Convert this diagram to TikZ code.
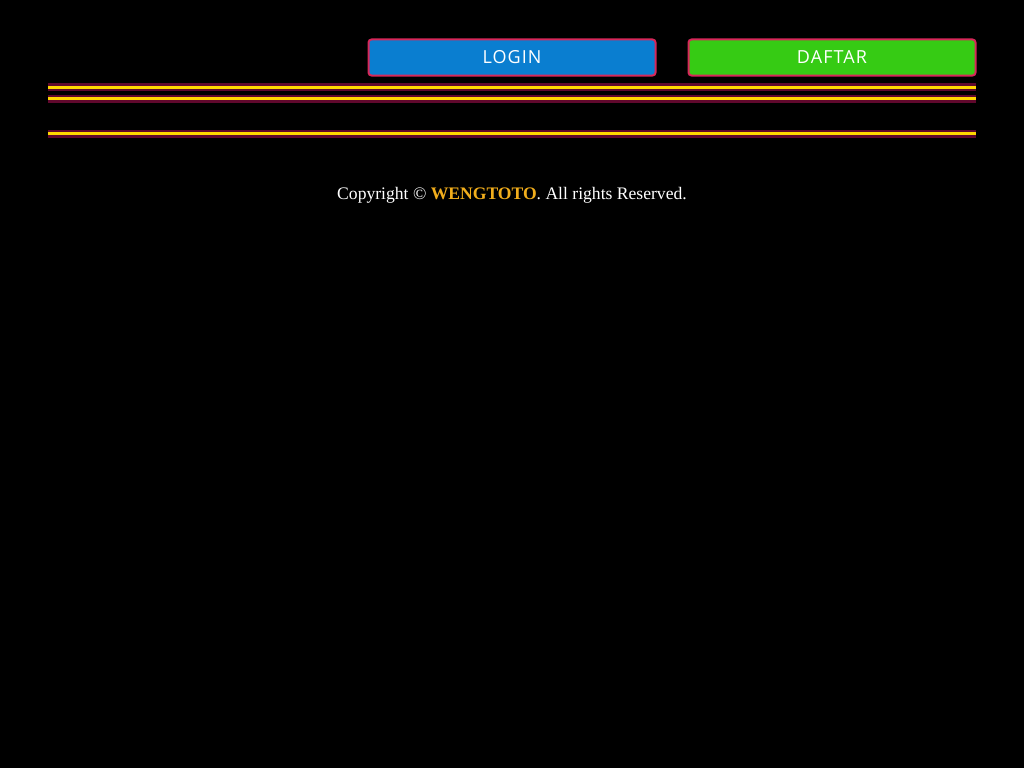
\documentclass[tikz,border=0pt]{standalone}
\usepackage{fontspec}
\setmainfont{Liberation Serif}
\newfontfamily\btnfont[LetterSpace=6]{Open Sans}
\definecolor{loginblue}{HTML}{0A7ED0}
\definecolor{daftargreen}{HTML}{36CB14}
\definecolor{btnborder}{HTML}{D7285A}
\definecolor{neonyellow}{HTML}{FFD700}
\definecolor{neonglow}{HTML}{C0105A}
\definecolor{brandgold}{HTML}{F2AE1C}
\tikzset{
  btn/.style={draw=btnborder,line width=2pt,rounded corners=3pt,minimum width=287pt,
    minimum height=36pt,text=white,font=\btnfont\fontsize{18}{20}\selectfont},
  neon/.style={line width=3pt,neonyellow,preaction={draw=neonglow,line width=8pt,opacity=0.5}}
}
\begin{document}
\begin{tikzpicture}[x=1pt,y=-1pt]
\useasboundingbox[fill=black] (0,0) rectangle (1024,768);

\node[btn,fill=loginblue] (login) at (512,57.5) {LOGIN};
\node[btn,fill=daftargreen] (daftar) at (832,57.5) {DAFTAR};

\foreach \y in {87,98.5,133.5}
    \draw[neon] (48,\y) -- (976,\y);

\node[text=white,font=\fontsize{17.6}{20}\selectfont] (copy) at (512,195.5)
    {Copyright \textcopyright\ \textcolor{brandgold}{\textbf{WENGTOTO}}. All rights Reserved.};
\end{tikzpicture}
\end{document}
